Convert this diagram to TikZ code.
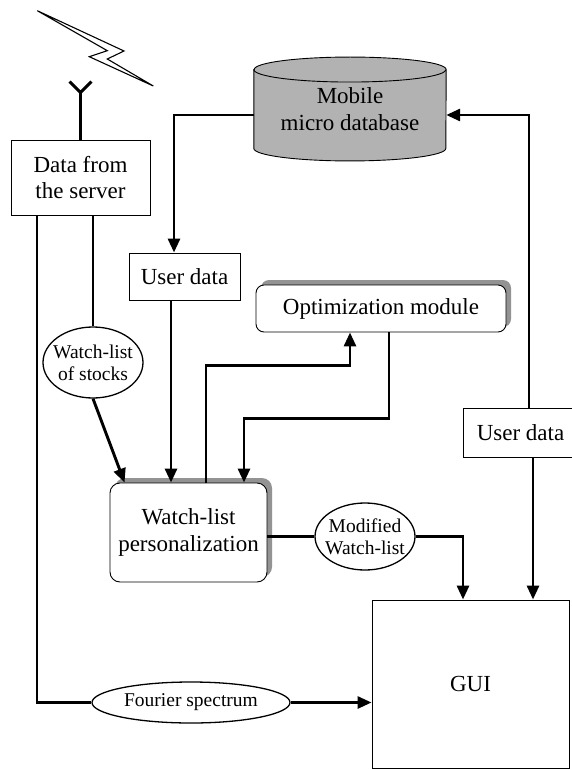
\documentclass[tikz,border=0pt]{standalone}
\usepackage{fontspec}
\setmainfont{Liberation Serif}
\usepackage{tikz}
\usetikzlibrary{arrows.meta,backgrounds,calc,positioning,shapes.geometric,shadows}
\tikzset{
  box/.style={draw, line width=0.9pt, fill=white, align=center, inner sep=0pt},
  roundbox/.style={box, rounded corners=10pt, general shadow={fill=gray!85, shadow xshift=5pt, shadow yshift=5pt}},
  oval/.style={ellipse, draw, line width=1.3pt, fill=white, align=center, inner sep=-5pt, font=\fontsize{19.5}{22}\selectfont},
  conn/.style={line width=2.9pt},
  arr/.style={conn, -{Triangle[length=14pt,width=12pt]}},
}

\begin{document}
\begin{tikzpicture}[x=1pt,y=1pt,font=\fontsize{23}{26.5}\selectfont]
\useasboundingbox (0,0) rectangle (571,-770);
% nodes
\node[box, minimum width=139, minimum height=75] (server) at (80.5,-177.5) {Data from\\the server};
\node[align=center, minimum width=192, minimum height=78.5, inner sep=0pt] (db) at (350,-109) {Mobile\\micro database};
\node[box, minimum width=111, minimum height=47] (userdataL) at (184.5,-276.5) {User data};
\node[roundbox, minimum width=250, minimum height=47, rounded corners=8pt] (opt) at (381,-308.5) {Optimization module};
\node[oval, minimum width=100, minimum height=71] (wls) at (93,-362.5) {Watch-list\\of stocks};
\node[box, minimum width=115, minimum height=49] (userdataR) at (520.5,-432.5) {User data};
\node[roundbox, minimum width=157, minimum height=99] (wlp) at (188.5,-532.5) {Watch-list\\personalization};
\node[oval, minimum width=100, minimum height=67] (mwl) at (365,-536.5) {Modified\\Watch-list};
\node[box, minimum width=197, minimum height=168] (gui) at (470.5,-684) {GUI};
\node[oval, minimum width=198, minimum height=41] (fourier) at (191,-702.5) {Fourier spectrum};

% database cylinder
\begin{scope}[on background layer]
\filldraw[fill=gray!60, line width=0.9pt] (db.north west) -- (db.south west)
  arc[start angle=180, end angle=360, x radius=96, y radius=12.5] -- (db.north east)
  arc[start angle=0, end angle=180, x radius=96, y radius=12.5] -- cycle;
\draw[line width=0.9pt] (db.north west) arc[start angle=180, end angle=360, x radius=96, y radius=12.5];
\end{scope}

% antenna and signal
\draw[conn] (server.north) -- ++(0,47) coordinate (ytop);
\draw[conn] (ytop) -- ++(-11,11) (ytop) -- ++(11,11);
\draw[line width=1.1pt, line join=miter] (37.3,-10.7) -- (124,-51) -- (107.3,-59) -- (153.3,-86) -- (89.3,-56.7) -- (107.3,-50.7) -- cycle;

% connectors
\draw[conn] ([xshift=-43.5pt]server.south) |- (fourier.west);
\draw[conn] (server.south -| wls.north) -- (wls.north);
\draw[arr] (wls.south) -- ([xshift=15pt]wlp.north west);
\draw[arr] ([yshift=-6pt]db.west) -| ([xshift=-10.5pt]userdataL.north);
\draw[arr] ([xshift=-17.5pt]wlp.north |- userdataL.south) -- ([xshift=-17.5pt]wlp.north);
\draw[arr] ([xshift=17.5pt]wlp.north) -- ++(0,117) -| ([xshift=-31pt]opt.south);
\draw[arr] ([xshift=8pt]opt.south) -- ++(0,-86) -| ([xshift=55.5pt]wlp.north);
\draw[conn] (mwl.west -| wlp.east) -- (mwl.west);
\draw[arr] (mwl.east) -| ([xshift=-7.5pt]gui.north);
\draw[arr] ([xshift=62.5pt]gui.north |- userdataR.south) -- ([xshift=62.5pt]gui.north);
\draw[arr] ([xshift=8.5pt]userdataR.north) |- ([yshift=-6pt]db.east);
\draw[arr] (fourier.east) -- (fourier.east -| gui.west);
\end{tikzpicture}
\end{document}
